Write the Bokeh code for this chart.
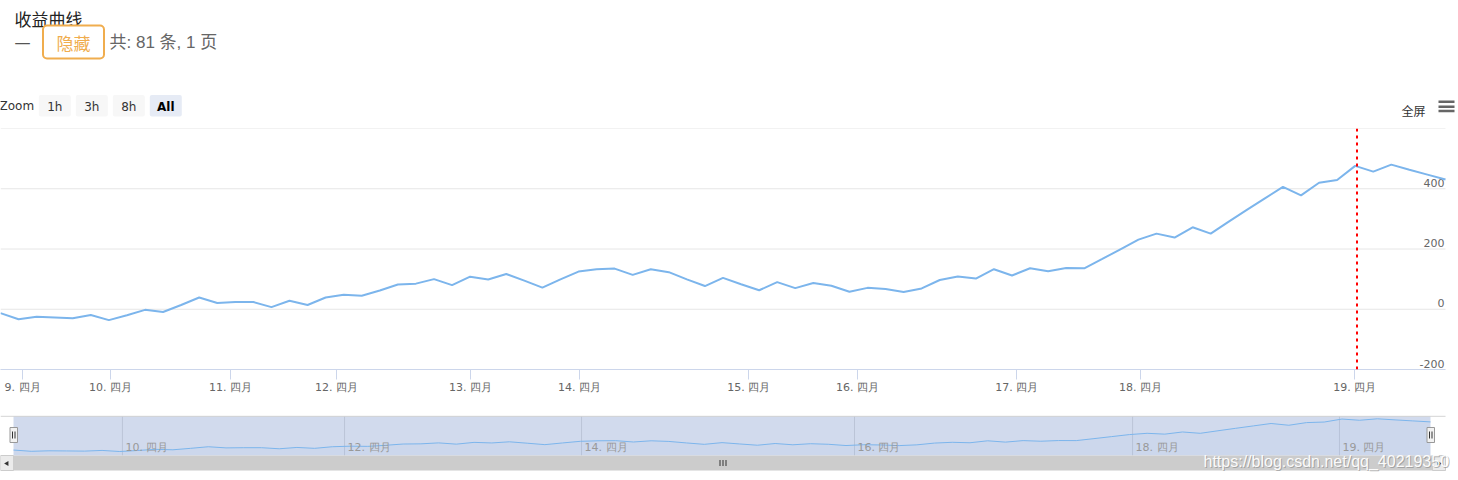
from bokeh.plotting import figure
from bokeh.layouts import column
from bokeh.models import Range1d, FixedTicker, Span
from bokeh.core.properties import value
from bokeh.embed import file_html
from bokeh.resources import INLINE

# ---------------- data ----------------
profit = [
    -13, -33, -25, -27, -30, -19, -36, -20, -2, -9,
    14, 39, 21, 24, 24, 7, 28, 14, 39, 48,
    45, 62, 82, 85, 100, 80, 108, 99, 117, 95,
    72, 99, 125, 133, 135, 114, 133, 123, 99, 77,
    104, 83, 63, 90, 70, 87, 78, 58, 71, 67,
    57, 69, 97, 109, 102, 133, 112, 136, 126, 137,
    136, 167, 199, 231, 251, 238, 272, 251, 291, 330,
    368, 406, 378, 420, 429, 476, 457, 480, 463, 447,
    431,
]
point_index = list(range(len(profit)))

day_labels = ["9. 四月", "10. 四月", "11. 四月", "12. 四月", "13. 四月", "14. 四月",
              "15. 四月", "16. 四月", "17. 四月", "18. 四月", "19. 四月"]
day_pos = [1.22, 6.09, 12.74, 18.6, 26.02, 32.06, 41.42, 47.45, 56.26, 63.12, 74.97]

nav_labels = ["10. 四月", "12. 四月", "14. 四月", "16. 四月", "18. 四月", "19. 四月"]
nav_pos = [6.15, 18.69, 32.07, 47.48, 63.18, 74.86]

y_ticks = [-200, 0, 200, 400, 600]
y_label_vals = [-200, 0, 200, 400]
y_labels = ["-200", "0", "200", "400"]

marker_pos = 75.1

title_text = "收益曲线"
hide_text = "隐藏"
count_text = "共: 81 条, 1 页"
zoom_label = "Zoom"
zoom_buttons = ["1h", "3h", "8h", "All"]
fullscreen_text = "全屏"
watermark = "https://blog.csdn.net/qq_40219350"

W = 1458
PLOT_RIGHT = 1445
CJK = value("Noto Sans CJK SC")
MIX = value("Liberation Sans, Noto Sans CJK SC")
DJV = value("DejaVu Sans")

# ---------------- header ----------------
hdr = figure(width=W, height=128, x_range=Range1d(0, W), y_range=Range1d(128, 0),
             output_backend="svg", toolbar_location=None, min_border=0,
             x_axis_location=None, y_axis_location=None, outline_line_color=None)
hdr.grid.visible = False

hdr.text(x=[14], y=[18], text=[title_text], text_font=CJK, text_font_size="17px",
         text_color="#222222", text_align="left", text_baseline="middle")
hdr.text(x=[14], y=[42], text=["一"], text_font=CJK, text_font_size="16px",
         text_color="#555555", text_align="left", text_baseline="middle")
hdr.quad(left=[42.5], right=[103.5], top=[25], bottom=[58], fill_color="white",
         line_color="#f0ad4e", line_width=2, border_radius=4)
hdr.text(x=[73], y=[41.5], text=[hide_text], text_font=CJK, text_font_size="17px",
         text_color="#f0ad4e", text_align="center", text_baseline="middle")
hdr.text(x=[109], y=[42], text=[count_text], text_font=MIX, text_font_size="17px",
         text_color="#666666", text_align="left", text_baseline="middle")

hdr.text(x=[-1], y=[105], text=[zoom_label], text_font=DJV, text_font_size="12px",
         text_color="#333333", text_align="left", text_baseline="middle")
lefts = [38.3 + 37 * i for i in range(len(zoom_buttons))]
fills = ["#f7f7f7"] * (len(zoom_buttons) - 1) + ["#e6ebf5"]
hdr.quad(left=lefts, right=[l + 32 for l in lefts], top=[94.5] * len(lefts),
         bottom=[116] * len(lefts), fill_color=fills, line_color=None, border_radius=2)
hdr.text(x=[l + 16 for l in lefts[:-1]], y=[106] * (len(lefts) - 1), text=zoom_buttons[:-1],
         text_font=DJV, text_font_size="12px", text_color="#333333",
         text_align="center", text_baseline="middle")
hdr.text(x=[lefts[-1] + 16], y=[106], text=zoom_buttons[-1:], text_font=DJV,
         text_font_size="12px", text_color="#000000", text_font_style="bold",
         text_align="center", text_baseline="middle")

hdr.text(x=[1425], y=[110], text=[fullscreen_text], text_font=CJK, text_font_size="12px",
         text_color="#333333", text_align="right", text_baseline="middle")
hdr.segment(x0=[1438] * 3, x1=[1454] * 3, y0=[101.2, 106.2, 110.6], y1=[101.2, 106.2, 110.6],
            line_color="#666666", line_width=2.5)

# ---------------- main chart ----------------
n_last = len(profit) - 1
x_end = n_last * W / PLOT_RIGHT  # frame spans full width, data ends at PLOT_RIGHT px
p = figure(width=W, height=287, x_range=Range1d(0, x_end), y_range=Range1d(-200, 600),
           output_backend="svg", toolbar_location=None,
           min_border_left=0, min_border_right=0, min_border_top=0, min_border_bottom=46,
           y_axis_location=None, outline_line_color=None)
p.grid.visible = False
p.segment(x0=[0] * len(y_ticks), x1=[n_last] * len(y_ticks), y0=y_ticks, y1=y_ticks,
          line_color="#e6e6e6", line_width=1)

ax = p.xaxis[0]
ax.ticker = FixedTicker(ticks=day_pos)
ax.major_label_overrides = {pos: lab for pos, lab in zip(day_pos, day_labels)}
ax.bounds = (0, n_last)
ax.axis_line_color = "#ccd6eb"
ax.major_tick_line_color = "#ccd6eb"
ax.major_tick_out = 10
ax.major_tick_in = 0
ax.minor_tick_line_color = None
ax.major_label_standoff = 1
ax.major_label_text_font = "DejaVu Sans"
ax.major_label_text_font_size = "11px"
ax.major_label_text_color = "#666666"

p.text(x=[n_last] * len(y_labels), y=y_label_vals, text=y_labels, text_align="right",
       text_baseline="bottom", x_offset=-1, y_offset=-2, text_font=DJV,
       text_font_size="11px", text_color="#666666")

p.line(x=point_index, y=profit, line_color="#7cb5ec", line_width=2)
p.add_layout(Span(location=marker_pos, dimension="height", line_color="#ff0000",
                  line_width=2, line_dash="3 4"))

# ---------------- navigator ----------------
nav = figure(width=W, height=65, x_range=Range1d(0, W), y_range=Range1d(65, 0),
             output_backend="svg", toolbar_location=None, min_border=0,
             x_axis_location=None, y_axis_location=None, outline_line_color=None)
nav.grid.visible = False
nl, nr = 13, 1430
s = (nr - nl) / n_last
nav.extra_x_ranges = {"idx": Range1d(-nl / s, n_last + (W - nr) / s)}
vmin, vmax = min(profit), max(profit)
px_max, px_min = 3.3, 36.0
b = (vmax - vmin) / (px_min - px_max)
top_val = vmax + px_max * b
nav.extra_y_ranges = {"val": Range1d(top_val - 65 * b, top_val)}

nav.segment(x0=nav_pos, x1=nav_pos, y0=[1] * len(nav_pos), y1=[40] * len(nav_pos),
            x_range_name="idx", line_color="#e0e0e0", line_width=1)
nav.quad(left=[nl], right=[nr], top=[0.7], bottom=[40], fill_color="#6685c2",
         fill_alpha=0.3, line_color=None)
nav.segment(x0=[0], x1=[PLOT_RIGHT], y0=[0.7], y1=[0.7], line_color="#cccccc", line_width=1)
nav.varea(x=point_index, y1=profit, y2=[top_val - 40 * b] * len(profit),
          x_range_name="idx", y_range_name="val", fill_color="#7cb5ec", fill_alpha=0.05)
nav.line(x=point_index, y=profit, x_range_name="idx", y_range_name="val",
         line_color="#7cb5ec", line_width=1)
nav.text(x=nav_pos, y=[32] * len(nav_pos), text=nav_labels, x_range_name="idx",
         x_offset=3, text_font=DJV, text_font_size="11px", text_color="#999999",
         text_align="left", text_baseline="middle")

# handles
for hx in (nl, nr):
    nav.quad(left=[hx - 3.5], right=[hx + 4], top=[12], bottom=[27],
             fill_color="#f2f2f2", line_color="#999999", line_width=1)
    nav.segment(x0=[hx - 1, hx + 1.5], x1=[hx - 1, hx + 1.5], y0=[16, 16], y1=[23, 23],
                line_color="#333333", line_width=1)

# scrollbar
nav.quad(left=[0], right=[PLOT_RIGHT], top=[40], bottom=[55], fill_color="#cccccc", line_color=None)
nav.quad(left=[0, PLOT_RIGHT - 13], right=[13, PLOT_RIGHT], top=[40, 40], bottom=[55, 55],
         fill_color="#ebebeb", line_color="#cccccc")
nav.scatter(x=[6.5, PLOT_RIGHT - 6.5], y=[48, 48], marker="triangle", size=5,
            angle=[1.5708, -1.5708], fill_color="#333333", line_color=None)
nav.segment(x0=[719.5, 722.5, 725.5], x1=[719.5, 722.5, 725.5], y0=[44.5] * 3, y1=[50.5] * 3,
            line_color="#333333", line_width=1)

# watermark
nav.text(x=[1204], y=[47], text=[watermark], text_font=value("Liberation Sans"),
         text_font_size="16px", text_color="#888888", text_alpha=0.6,
         text_align="left", text_baseline="middle")
nav.text(x=[1203], y=[46], text=[watermark], text_font=value("Liberation Sans"),
         text_font_size="16px", text_color="#ffffff", text_alpha=0.95,
         text_align="left", text_baseline="middle")

layout = column(hdr, p, nav)
open("out.html", "w").write(file_html(layout, INLINE))
